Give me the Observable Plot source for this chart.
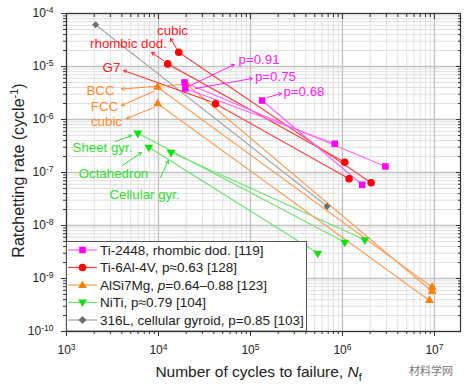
<!DOCTYPE html>
<html><head><meta charset="utf-8">
<script src="https://cdn.jsdelivr.net/npm/d3@7"></script>
<script src="https://cdn.jsdelivr.net/npm/@observablehq/plot@0.6"></script>
<style>
body{margin:0;background:#fff;font-family:Arial,"Liberation Sans",sans-serif;}
#wrap{position:relative;width:468px;height:388px;overflow:hidden;}
#legend{position:absolute;left:66px;top:241px;}
#wm{position:absolute;left:409px;top:362px;font:11px "Noto Sans CJK SC",sans-serif;color:#7a7a7a;}
</style></head><body><div id="wrap"></div>
<script>
// ---- data (cycles to failure N, ratchetting rate R): start point -> end point ----
// Ti-2448, rhombic dod. [119]
const tiN0 = [1.92e4, 1.96e4, 1.34e5];
const tiR0 = [5.0e-6, 3.85e-6, 2.28e-6];
const tiN1 = [2.93e6, 8.25e5, 1.64e6];
const tiR1 = [1.30e-7, 3.48e-7, 5.86e-8];
// Ti-6Al-4V, p≈0.63 [128]
const t64N0 = [1.66e4, 1.26e4, 4.17e4];
const t64R0 = [1.86e-5, 1.12e-5, 1.98e-6];
const t64N1 = [2.05e6, 1.06e6, 1.18e6];
const t64R1 = [6.4e-8, 1.56e-7, 7.6e-8];
// AlSi7Mg, p=0.64–0.88 [123]
const alN0 = [2.0e4, 9.8e3, 9.8e3];
const alR0 = [4.72e-6, 4.07e-6, 1.98e-6];
const alN1 = [9.44e6, 9.44e6, 8.83e6];
const alR1 = [5.69e-10, 6.85e-10, 3.85e-10];
// NiTi, p≈0.79 [104]
const niN0 = [5.96e3, 7.85e3, 1.37e4];
const niR0 = [5.52e-7, 3.0e-7, 2.41e-7];
const niN1 = [1.06e6, 5.39e5, 1.75e6];
const niR1 = [4.84e-9, 3.0e-9, 5.37e-9];
// 316L, cellular gyroid, p=0.85 [103]
const ssN0 = [2.07e3];
const ssR0 = [6.12e-5];
const ssN1 = [6.8e5];
const ssR1 = [2.3e-8];

const seriesLabels = ["Ti-2448, rhombic dod. [119]", "Ti-6Al-4V, p≈0.63 [128]", "AlSi7Mg, |p|=0.64–0.88 [123]", "NiTi, p≈0.79 [104]", "316L, cellular gyroid, p=0.85 [103]"];
const seriesSymbols = ["square", "circle", "triUp", "triDown", "diamond"];
const markColors = ["#ff00ff", "#ff0000", "#ff7f00", "#12e012", "#6e6e6e"];
const lineColors = ["#ff66ff", "#f24848", "#f7a25e", "#6fe36f", "#a8a8a8"];
const textColors = ["#ff22ff", "#ff2020", "#ff8a30", "#33dd33"];

// annotations
const annText = ["cubic", "rhombic dod.", "G7", "BCC", "FCC", "cubic", "p=0.91", "p=0.75", "p=0.68", "Sheet gyr.", "Octahedron", "Cellular gyr."];
const annGroup = [1, 1, 1, 2, 2, 2, 0, 0, 0, 3, 3, 3];
const annN = [1.42e4, 4.72e3, 3.08e3, 2.34e3, 2.59e3, 2.72e3, 1.24e5, 1.87e5, 3.81e5, 2.46e3, 3.24e3, 7.05e3];
const annR = [4.78e-5, 2.72e-5, 9.57e-6, 3.52e-6, 1.76e-6, 9.17e-7, 1.34e-5, 6.48e-6, 3.38e-6, 2.96e-7, 9.57e-8, 3.85e-8];
const arrN1 = [1.57e4, 1.13e4, 3.67e4, 1.73e4, 8.83e3, 8.83e3, 2.23e4, 2.52e4, 1.53e5, 3.41e3, 4.06e3, 1.05e4];
const arrR1 = [2.19e-5, 1.30e-5, 2.19e-6, 4.57e-6, 3.38e-6, 1.68e-6, 4.38e-6, 3.85e-6, 2.60e-6, 3.85e-7, 1.36e-7, 8.05e-8];
const arrN2 = [1.35e4, 8.4e3, 4.17e3, 3.96e3, 3.96e3, 4.49e3, 6.70e4, 1.05e5, 2.17e5, 5.09e3, 6.53e3, 1.28e4];
const arrR2 = [3.38e-5, 1.84e-5, 8.4e-6, 3.76e-6, 1.84e-6, 1.04e-6, 1.09e-5, 5.94e-6, 3.10e-6, 4.99e-7, 2.38e-7, 1.68e-7];

// axis ticks
const majorX = [1e3, 1e4, 1e5, 1e6, 1e7];
const majorY = [1e-10, 1e-9, 1e-8, 1e-7, 1e-6, 1e-5, 1e-4];
const minorX = [];
[1e3, 1e4, 1e5, 1e6, 1e7].forEach(d => { for (let k = 2; k <= 9; k++) if (k * d < 1.92e7) minorX.push(k * d); });
const minorY = [];
[1e-10, 1e-9, 1e-8, 1e-7, 1e-6, 1e-5].forEach(d => { for (let k = 2; k <= 9; k++) minorY.push(k * d); });

// ---- build tables ----
const groups = [[tiN0, tiR0, tiN1, tiR1], [t64N0, t64R0, t64N1, t64R1], [alN0, alR0, alN1, alR1], [niN0, niR0, niN1, niR1], [ssN0, ssR0, ssN1, ssR1]];
const segs = [];
groups.forEach(([n0, r0, n1, r1], g) => n0.forEach((_, i) => segs.push({g, n0: n0[i], r0: r0[i], n1: n1[i], r1: r1[i]})));
const pts = [];
segs.forEach(s => { pts.push({g: s.g, n: s.n0, r: s.r0}); pts.push({g: s.g, n: s.n1, r: s.r1}); });
const ann = annText.map((t, i) => ({t, g: annGroup[i], n: annN[i], r: annR[i], x1: arrN1[i], y1: arrR1[i], x2: arrN2[i], y2: arrR2[i]}));

const triDown = {draw(ctx, size) { const y = -Math.sqrt(size / (Math.sqrt(3) * 3)); ctx.moveTo(0, -y * 2); ctx.lineTo(-Math.sqrt(3) * y, y); ctx.lineTo(Math.sqrt(3) * y, y); ctx.closePath(); }};
const symMap = {square: "square", circle: "circle", triUp: "triangle", triDown: triDown, diamond: "diamond2"};
const symR = {square: 3.7, circle: 3.8, triUp: 3.3, triDown: 3.3, diamond: 3.2};

const marks = [
  Plot.gridX(minorX, {stroke: "#e0e0e0", strokeOpacity: 1}),
  Plot.gridY(minorY, {stroke: "#e0e0e0", strokeOpacity: 1}),
  Plot.gridX(majorX, {stroke: "#c2c2c2", strokeOpacity: 1, strokeWidth: 1.4}),
  Plot.gridY(majorY, {stroke: "#c2c2c2", strokeOpacity: 1, strokeWidth: 1.4}),
];
[4, 3, 2, 1, 0].forEach(g => marks.push(Plot.link(segs.filter(s => s.g === g), {x1: "n0", y1: "r0", x2: "n1", y2: "r1", stroke: lineColors[g], strokeWidth: 1.2})));
[0, 1, 2, 3].forEach(g => {
  const a = ann.filter(d => d.g === g);
  marks.push(Plot.arrow(a, {x1: "x1", y1: "y1", x2: "x2", y2: "y2", stroke: textColors[g], strokeWidth: 1, headLength: 5, bend: 0}));
  marks.push(Plot.text(a, {x: "n", y: "r", text: "t", fill: textColors[g], fontSize: 13.3}));
});
[4, 3, 2, 1, 0].forEach(g => {
  const s = seriesSymbols[g];
  marks.push(Plot.dot(pts.filter(p => p.g === g), {x: "n", y: "r", symbol: symMap[s], r: symR[s], fill: markColors[g], stroke: "none"}));
});
marks.push(
  Plot.frame({stroke: "#333", strokeWidth: 1.2}),
  Plot.axisX(majorX, {anchor: "bottom", tickSize: 5, tickPadding: 9, fontSize: 12, stroke: "#333", fill: "#222", label: null, tickFormat: d => "10|" + Math.round(Math.log10(d))}),
  Plot.axisX(minorX, {anchor: "bottom", tickSize: 3, stroke: "#333", label: null, tickFormat: () => ""}),
  Plot.axisX(majorX, {anchor: "top", tickSize: 5, dy: 5, stroke: "#333", label: null, tickFormat: () => ""}),
  Plot.axisX(minorX, {anchor: "top", tickSize: 3, dy: 3, stroke: "#333", label: null, tickFormat: () => ""}),
  Plot.axisY(majorY, {anchor: "left", tickSize: 5, tickPadding: 8, fontSize: 12, stroke: "#333", fill: "#222", label: null, tickFormat: d => "10|" + Math.round(Math.log10(d))}),
  Plot.axisY(minorY, {anchor: "left", tickSize: 3, stroke: "#333", label: null, tickFormat: () => ""}),
  Plot.axisY(majorY, {anchor: "right", tickSize: 5, dx: -5, stroke: "#333", label: null, tickFormat: () => ""}),
  Plot.axisY(minorY, {anchor: "right", tickSize: 3, dx: -3, stroke: "#333", label: null, tickFormat: () => ""}),
  Plot.text(["XLABEL"], {frameAnchor: "bottom", dy: 41, dx: -5, text: d => d, fontSize: 15.5, fill: "#222", textAnchor: "middle", lineAnchor: "middle"}),
  Plot.text(["YLABEL"], {frameAnchor: "left", dx: -48, dy: -2, rotate: -90, text: d => d, fontSize: 16, fill: "#222", textAnchor: "middle", lineAnchor: "middle"})
);

const chart = Plot.plot({
  width: 468, height: 388,
  marginLeft: 66, marginRight: 8, marginTop: 13, marginBottom: 57,
  style: {fontFamily: "Arial, 'Liberation Sans', sans-serif", background: "white", color: "#222"},
  x: {type: "log", domain: [1e3, 1.92e7], label: null},
  y: {type: "log", domain: [1e-10, 1e-4], label: null},
  marks
});
document.getElementById("wrap").appendChild(chart);

// superscripts / italics
const svg = d3.select(chart.tagName.toLowerCase() === "svg" ? chart : chart.querySelector("svg"));
svg.selectAll("text").each(function() {
  const s = this.textContent;
  const t = d3.select(this);
  if (/^10\|/.test(s)) {
    const [b, e] = s.split("|");
    t.text(null);
    t.append("tspan").text(b);
    t.append("tspan").attr("dy", -4.5).attr("font-size", 8.5).text(e);
  } else if (s === "XLABEL") {
    t.text(null);
    t.append("tspan").text("Number of cycles to failure, ");
    t.append("tspan").attr("font-style", "italic").text("N");
    t.append("tspan").attr("dy", 4).attr("font-size", 10.5).text("f");
  } else if (s === "YLABEL") {
    t.text(null);
    t.append("tspan").text("Ratchetting rate (cycle");
    t.append("tspan").attr("dy", -5.5).attr("font-size", 11).text("-1");
    t.append("tspan").attr("dy", 5.5).text(")");
  }
});

// legend
const ly = [9, 26.5, 44, 61.5, 79];
let lg = `<svg id="legend" width="241" height="90" xmlns="http://www.w3.org/2000/svg"><rect x="0.5" y="0.5" width="240" height="89.5" fill="#fff" stroke="#555" stroke-width="1"/>`;
seriesLabels.forEach((lab, i) => {
  const y = ly[i], cx = 16.5, c = markColors[i];
  lg += `<line x1="2" x2="31" y1="${y}" y2="${y}" stroke="${lineColors[i]}" stroke-width="1.3"/>`;
  const s = seriesSymbols[i];
  if (s === "square") lg += `<rect x="${cx - 3.3}" y="${y - 3.3}" width="6.6" height="6.6" fill="${c}"/>`;
  if (s === "circle") lg += `<circle cx="${cx}" cy="${y}" r="3.8" fill="${c}"/>`;
  if (s === "triUp") lg += `<path d="M${cx},${y - 4.6}L${cx + 4.4},${y + 3}L${cx - 4.4},${y + 3}Z" fill="${c}"/>`;
  if (s === "triDown") lg += `<path d="M${cx},${y + 4.6}L${cx + 4.4},${y - 3}L${cx - 4.4},${y - 3}Z" fill="${c}"/>`;
  if (s === "diamond") lg += `<path d="M${cx},${y - 4}L${cx + 4},${y}L${cx},${y + 4}L${cx - 4},${y}Z" fill="${c}"/>`;
  const parts = lab.split("|");
  let txt = parts.length === 3 ? `${parts[0]}<tspan font-style="italic">${parts[1]}</tspan>${parts[2]}` : lab;
  lg += `<text x="34" y="${y + 4.8}" font-size="13.5" fill="#222" font-family="Arial, 'Liberation Sans', sans-serif">${txt}</text>`;
});
lg += `</svg>`;
document.getElementById("wrap").insertAdjacentHTML("beforeend", lg);
document.getElementById("wrap").insertAdjacentHTML("beforeend", `<div id="wm">材料学网</div>`);
</script>
</body></html>
